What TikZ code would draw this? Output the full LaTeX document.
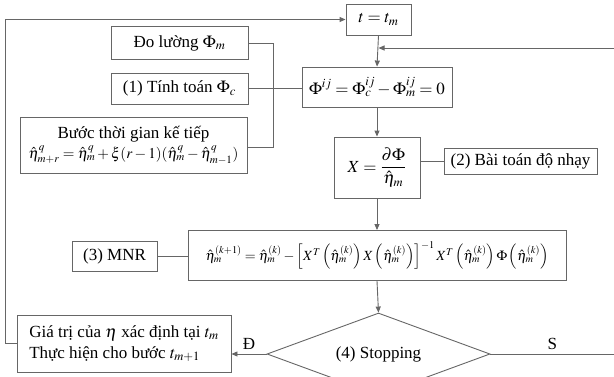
\documentclass[tikz,border=0pt]{standalone}
\usepackage{mathptmx}
\usepackage{fontspec}
\setmainfont{Liberation Serif}
\usetikzlibrary{shapes.geometric,arrows.meta}
\begin{document}
\begin{tikzpicture}[x=1pt,y=-1pt,
  font=\fontsize{17}{21}\selectfont,
  ln/.style={draw=black!60, line width=0.9pt},
  arr/.style={ln, -{Triangle[length=6pt,width=5pt]}},
  bx/.style={draw=black!60, line width=0.9pt, rectangle, inner sep=2pt, align=center},
  dia/.style={draw=black!60, line width=0.9pt, diamond, aspect=2.7, inner sep=0pt}]
\useasboundingbox (0,0) rectangle (614,376);
\clip (0,0) rectangle (614,376);
% boxes
\node[bx, minimum width=65pt, minimum height=31pt] (tt) at (378.5,19.5) {$t = t_m$};
\node[bx, minimum width=150pt, minimum height=40pt] (phi) at (377,87) {$\Phi^{ij} = \Phi^{ij}_c - \Phi^{ij}_m = 0$};
\node[bx, minimum width=137pt, minimum height=33pt] (meas) at (179.5,43) {Đo lường $\Phi_m$};
\node[bx, minimum width=137pt, minimum height=31pt] (calc) at (179.5,88.5) {(1) Tính toán $\Phi_c$};
\node[bx, minimum width=227pt, minimum height=56pt, inner sep=0pt] (next) at (133.5,145) {Bước thời gian kế tiếp\\[-1pt] {\fontsize{15}{18}\selectfont$\hat\eta^{q}_{m+r} = \hat\eta^{q}_{m} + \xi(r-1)(\hat\eta^{q}_{m} - \hat\eta^{q}_{m-1})$}};
\node[bx, minimum width=86pt, minimum height=61pt] (xx) at (377,167.5) {$\displaystyle X = \frac{\partial\Phi}{\hat\eta_m}$};
\node[bx, minimum width=153pt, minimum height=26pt] (sens) at (520.5,161) {(2) Bài toán độ nhạy};
\node[bx, minimum width=378pt, minimum height=50pt, inner sep=0pt] (mnrf) at (377,255.5) {{\fontsize{14}{17}\selectfont$\hat\eta_m^{(k+1)} = \hat\eta_m^{(k)} - \left[X^T\left(\hat\eta_m^{(k)}\right)X\left(\hat\eta_m^{(k)}\right)\right]^{-1} X^T\left(\hat\eta_m^{(k)}\right)\Phi\left(\hat\eta_m^{(k)}\right)$}};
\node[bx, minimum width=85pt, minimum height=30pt] (mnr) at (114.5,256) {(3) MNR};
\node[dia, minimum width=223pt, minimum height=82pt] (stop) at (378.5,354) {(4) Stopping};
\node[bx, minimum width=214pt, minimum height=57pt, align=left] (res) at (124,343.5) {Giá trị của $\eta$ xác định tại $t_m$\\Thực hiện cho bước $t_{m+1}$};
% helper coordinates
\coordinate (lx) at (5,0);
\coordinate (bxr) at (273,147);
\coordinate (fbR) at (614,48);
% connectors
\draw[arr] (res.west) -- (res.west -| lx) |- (tt.west);
\draw[arr] (tt.south) -- (phi.north);
\draw[arr] (fbR) -- (fbR -| tt.south);
\draw[ln] (calc.east) -- (calc.east -| phi.west);
\draw[ln] (meas.east) -- (meas.east -| bxr) -- (bxr) -- (bxr -| next.east);
\draw[arr] (phi.south) -- (xx.north);
\draw[ln] (sens.west) -- (sens.west -| xx.east);
\draw[arr] (xx.south) -- (mnrf.north);
\draw[ln] (mnr.east) -- (mnr.east -| mnrf.west);
\draw[arr] (mnrf.south) -- (stop.north);
\draw[arr] (stop.west) -- node[above=1pt] (lblD) {Đ} (stop.west -| res.east);
\draw[ln] (stop.east) -- node[above=1pt, pos=0.5] (lblS) {S} (stop.east -| fbR);
\end{tikzpicture}
\end{document}
